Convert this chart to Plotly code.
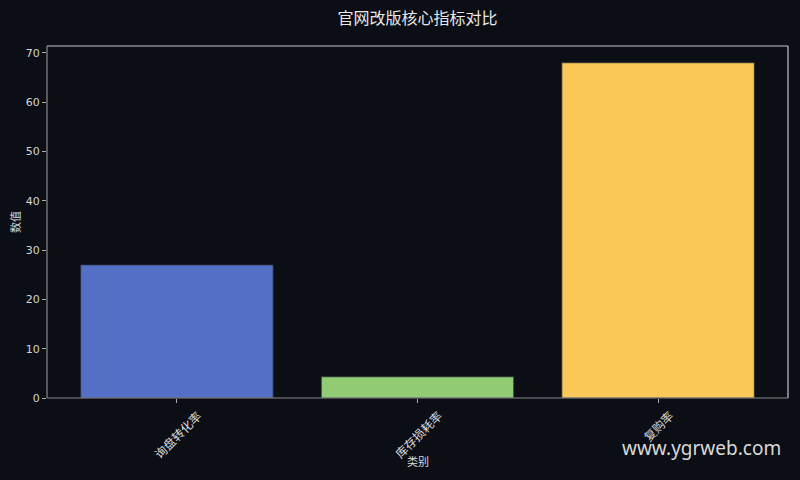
import plotly.graph_objects as go

categories = ["询盘转化率", "库存损耗率", "复购率"]
values = [27.0, 4.3, 68.0]
colors = ["#5470c6", "#91cc75", "#fac858"]
y_ticks = [0, 10, 20, 30, 40, 50, 60, 70]

BG = "#0b0e14"
FONT = "Noto Sans CJK SC, DejaVu Sans, sans-serif"
NUMFONT = "DejaVu Sans, sans-serif"

fig = go.Figure()
fig.add_trace(go.Bar(
    x=list(range(len(categories))),
    y=values,
    width=0.8,
    marker=dict(color=colors, line=dict(color="#2a2f3a", width=0.8)),
    hoverinfo="skip",
))

fig.update_layout(
    width=800, height=480,
    paper_bgcolor=BG, plot_bgcolor=BG,
    margin=dict(l=47, r=12, t=46, b=82, autoexpand=False),
    showlegend=False,
    font=dict(family=FONT, color="#d0d0d0", size=11),
    title=dict(text="官网改版核心指标对比", x=0.5, xref="paper", xanchor="center",
               y=1 - 18 / 480, yanchor="middle",
               font=dict(size=16, color="#e8e8e8", family=FONT)),
    xaxis=dict(
        range=[-0.54, 2.54],
        tickmode="array",
        tickvals=list(range(len(categories))),
        ticktext=["" for _ in categories],
        ticks="outside", ticklen=4, tickcolor="#aaaaaa",
        showgrid=False, zeroline=False, showline=False, automargin=False,
    ),
    yaxis=dict(
        range=[0, 71.4],
        tickmode="array",
        tickvals=y_ticks,
        ticks="outside", ticklen=4, tickcolor="#aaaaaa",
        showgrid=False, zeroline=False, showline=False, automargin=False,
        tickfont=dict(size=11, color="#d6d6d6", family=NUMFONT),
    ),
)

# category labels rotated 45 degrees, centred under each tick
for i, name in enumerate(categories):
    fig.add_annotation(text=name, x=i, xref="x", y=0, yref="paper",
                       xanchor="center", yanchor="top", yshift=-6,
                       textangle=-45, showarrow=False,
                       font=dict(size=12, color="#dcdcdc", family=FONT))

# axis titles
fig.add_annotation(text="类别", x=0.5, xref="paper", y=0, yref="paper",
                   yshift=-63, xanchor="center", yanchor="middle", showarrow=False,
                   font=dict(size=11, color="#dcdcdc", family=FONT))
fig.add_annotation(text="数值", x=0, xref="paper", y=0.5, yref="paper",
                   xshift=-32, xanchor="center", yanchor="middle", textangle=-90,
                   showarrow=False, font=dict(size=11, color="#dcdcdc", family=FONT))

# frame (spines)
fig.add_shape(type="line", xref="paper", yref="paper", x0=0, x1=1, y0=1, y1=1,
              line=dict(color="#c8c8c8", width=1.2))
fig.add_shape(type="line", xref="paper", yref="paper", x0=1, x1=1, y0=0, y1=1,
              line=dict(color="#c8c8c8", width=1.2))
fig.add_shape(type="line", xref="paper", yref="paper", x0=0, x1=0, y0=0, y1=1,
              line=dict(color="#8a8a8a", width=1.2))
fig.add_shape(type="line", xref="paper", yref="paper", x0=0, x1=1, y0=0, y1=0,
              line=dict(color="#8a8a8a", width=1.2))

fig.add_annotation(text="www.ygrweb.com", xref="paper", yref="paper",
                   x=(701 - 47) / 741, y=-(448 - 398) / 352,
                   xanchor="center", yanchor="middle", showarrow=False,
                   font=dict(size=19, color="#d8d8d8", family="Noto Sans, DejaVu Sans"))

fig.write_html(
    "out.html",
    config={"displayModeBar": False},
    post_script="document.body.style.margin='0';document.body.style.overflow='hidden';"
                "document.body.style.background='#0b0e14';",
)
